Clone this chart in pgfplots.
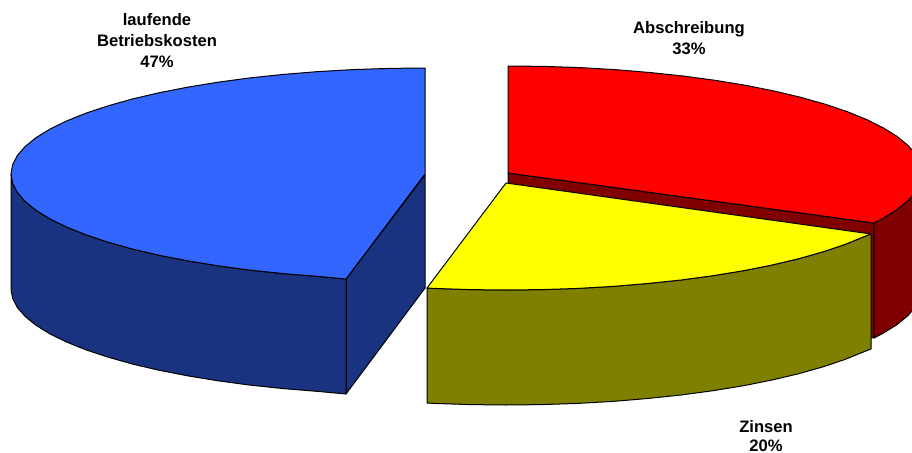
\documentclass[border=0pt]{standalone}
\usepackage{pgfplots}
\pgfplotsset{compat=1.18}
\usepackage{fontspec}
\setmainfont{Liberation Sans}

\definecolor{bluetop}{HTML}{3366FF}
\definecolor{blueside}{HTML}{1A3380}
\definecolor{redtop}{HTML}{FF0000}
\definecolor{redside}{HTML}{800000}
\definecolor{yellowtop}{HTML}{FFFF00}
\definecolor{yellowside}{HTML}{808000}

\tikzset{lbl/.style={align=center,font=\fontsize{16.6}{21}\selectfont\bfseries,text=black}}

\begin{document}
\begin{tikzpicture}
\begin{axis}[
    scale only axis,
    width=912pt,
    height=452pt,
    xmin=0, xmax=912,
    ymin=0, ymax=452,
    y dir=reverse,
    axis line style={draw=none},
    xtick=\empty,
    ytick=\empty,
    every axis plot/.append style={draw=black,line width=1pt,line join=round},
]
% laufende Betriebskosten: cut face, side, top
\addplot[fill=blueside] coordinates {(425,175) (346,279) (346,394) (425,288)} --cycle;
\addplot[fill=blueside] coordinates {
    (11,174) (12.6,183.2) (17.3,192.4) (25.1,201.4) (36,210.3) (49.8,218.8) (66.5,227)
    (85.9,234.8) (107.9,242.1) (132.3,249) (158.9,255.2) (187.5,260.8) (218,265.8)
    (250,270.1) (283.4,273.6) (317.9,276.4) (346,279)
    (346,394) (317.9,391.4) (283.4,388.6) (250,385.1) (218,380.8) (187.5,375.8)
    (158.9,370.2) (132.3,364) (107.9,357.1) (85.9,349.8) (66.5,342) (49.8,333.8)
    (36,325.3) (25.1,316.4) (17.3,307.4) (12.6,298.2) (11,289)
} --cycle;
\addplot[fill=bluetop] coordinates {
    (425,174) (425,68) (388.9,68.4) (353.1,69.6) (317.9,71.6) (283.4,74.4) (250,77.9)
    (218,82.2) (187.5,87.2) (158.9,92.8) (132.3,99) (107.9,105.9) (85.9,113.2)
    (66.5,121) (49.8,129.2) (36,137.7) (25.1,146.6) (17.3,155.6) (12.6,164.8) (11,174)
    (12.6,183.2) (17.3,192.4) (25.1,201.4) (36,210.3) (49.8,218.8) (66.5,227)
    (85.9,234.8) (107.9,242.1) (132.3,249) (158.9,255.2) (187.5,260.8) (218,265.8)
    (250,270.1) (283.4,273.6) (317.9,276.4) (346,279)
} --cycle;
% Abschreibung
\addplot[fill=redside] coordinates {(508,173) (874,223) (874,338) (508,288)} --cycle;
\addplot[fill=redside] coordinates {
    (874,223) (883.2,218.2) (897,209.6) (907.9,200.7) (915.7,191.6) (920.4,182.3) (922,173)
    (922,288) (920.4,297.3) (915.7,306.6) (907.9,315.7) (897,324.6) (883.2,333.2) (874,338)
} --cycle;
\addplot[fill=redtop] coordinates {
    (508,173) (508,66) (544.1,66.4) (579.9,67.6) (615.1,69.6) (649.6,72.5) (683,76)
    (715,80.3) (745.5,85.3) (774.1,91) (800.7,97.3) (825.1,104.2) (847.1,111.6)
    (866.5,119.5) (883.2,127.8) (897,136.4) (907.9,145.3) (915.7,154.4) (920.4,163.7)
    (922,173) (920.4,182.3) (915.7,191.6) (907.9,200.7) (897,209.6) (883.2,218.2) (874,223)
} --cycle;
% Zinsen
\addplot[fill=yellowside] coordinates {
    (871,234) (864.5,236.5) (845.1,244.4) (823.1,251.8) (798.7,258.7) (772.1,265)
    (743.5,270.7) (713,275.7) (681,280) (647.6,283.5) (613.1,286.4) (577.9,288.4)
    (542.1,289.6) (506,290) (469.9,289.6) (434.1,288.4) (427,288)
    (427,403) (434.1,403.4) (469.9,404.6) (506,405) (542.1,404.6) (577.9,403.4)
    (613.1,401.4) (647.6,398.5) (681,395) (713,390.7) (743.5,385.7) (772.1,380)
    (798.7,373.7) (823.1,366.8) (845.1,359.4) (864.5,351.5) (871,349)
} --cycle;
\addplot[fill=yellowtop] coordinates {
    (506,183) (871,234) (864.5,236.5) (845.1,244.4) (823.1,251.8) (798.7,258.7) (772.1,265)
    (743.5,270.7) (713,275.7) (681,280) (647.6,283.5) (613.1,286.4) (577.9,288.4)
    (542.1,289.6) (506,290) (469.9,289.6) (434.1,288.4) (427,288)
} --cycle;
\node[lbl] at (axis cs:157,41) {laufende\\Betriebskosten\\47\%};
\node[lbl] at (axis cs:689,38) {Abschreibung\\33\%};
\node[lbl,font=\fontsize{16.6}{19.5}\selectfont\bfseries] at (axis cs:766,436) {Zinsen\\20\%};
\end{axis}
\end{tikzpicture}
\end{document}
